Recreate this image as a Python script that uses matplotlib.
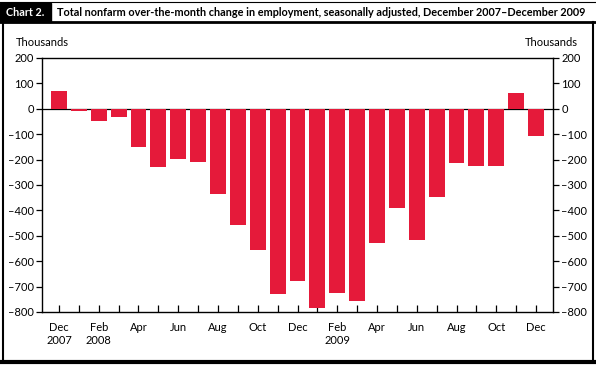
import matplotlib
matplotlib.use("Agg")
import matplotlib.pyplot as plt
from matplotlib.lines import Line2D
from matplotlib.patches import Rectangle
import numpy as np

plt.rcParams["font.family"] = ["Lato", "DejaVu Sans"]

# monthly change, thousands, Dec 2007 - Dec 2009
months = ["Dec", "Jan", "Feb", "Mar", "Apr", "May", "Jun", "Jul", "Aug", "Sep",
          "Oct", "Nov", "Dec", "Jan", "Feb", "Mar", "Apr", "May", "Jun", "Jul",
          "Aug", "Sep", "Oct", "Nov", "Dec"]
change = [71, -10, -50, -34, -152, -231, -196, -211, -337, -459,
          -557, -731, -676, -783, -727, -755, -530, -389, -518, -349,
          -215, -227, -227, 63, -109]
tick_labels = ["Dec\n2007", "", "Feb\n2008", "", "Apr", "", "Jun", "", "Aug", "",
               "Oct", "", "Dec", "", "Feb\n2009", "", "Apr", "", "Jun", "",
               "Aug", "", "Oct", "", "Dec"]
y_ticks = [200, 100, 0, -100, -200, -300, -400, -500, -600, -700, -800]

RED = "#E51A3A"
W, H = 596, 366

fig = plt.figure(figsize=(W / 100, H / 100), dpi=100)
ax = fig.add_axes([42 / W, (H - 312) / H, (553 - 42) / W, (312 - 58) / H])

x = np.arange(len(change))
ax.bar(x, change, width=0.8, color=RED, linewidth=0, zorder=2)
ax.axhline(0, color="black", lw=0.9, zorder=1)

ax.set_xlim(-0.855, len(change) - 1 + 0.855)
ax.set_ylim(-800, 200)

fmt = lambda v: f"\u2013{abs(v)}" if v < 0 else f"{v}"
ax.set_yticks(y_ticks)
ax.set_yticklabels([fmt(v) for v in y_ticks])
ax.tick_params(axis="y", direction="out", length=4, width=0.9, labelsize=8,
               pad=2, left=True, right=True, labelleft=True, labelright=True,
               colors="black")
ax.set_xticks(x)
ax.set_xticklabels(tick_labels, linespacing=1.25)
ax.tick_params(axis="x", direction="in", length=5, width=0.9, labelsize=8,
               pad=7)
for s in ax.spines.values():
    s.set_linewidth(1.0)

fig.text(16 / W, 1 - 43 / H, "Thousands", fontsize=8, va="center", ha="left")
fig.text(578 / W, 1 - 43 / H, "Thousands", fontsize=8, va="center", ha="right")

# header
fig.patches.append(Rectangle((0, 1 - 22 / H), 51 / W, 19 / H,
                             transform=fig.transFigure, color="black"))
fig.text(25 / W, 1 - 13 / H, "Chart 2.", color="white", fontsize=7.8,
         fontweight="bold", ha="center", va="center")
fig.text(57 / W, 1 - 13 / H,
         "Total nonfarm over-the-month change in employment, seasonally adjusted, "
         "December 2007\u2013December 2009",
         fontsize=7.85, fontweight="bold", ha="left", va="center")

# frame
fig.lines.append(Line2D([0, 1], [1 - 22 / H, 1 - 22 / H],
                        transform=fig.transFigure, color="black", lw=2))
fig.lines.append(Line2D([0, 1], [1 - 1.5 / H, 1 - 1.5 / H],
                        transform=fig.transFigure, color="black", lw=0.8))
fig.lines.append(Line2D([2.5 / W, 2.5 / W], [1 - 22 / H, 4 / H],
                        transform=fig.transFigure, color="black", lw=1.5))
fig.lines.append(Line2D([592.5 / W, 592.5 / W], [1 - 22 / H, 4 / H],
                        transform=fig.transFigure, color="black", lw=1.5))
fig.lines.append(Line2D([0, 1], [4 / H, 4 / H],
                        transform=fig.transFigure, color="black", lw=3))

fig.savefig("out.png", dpi=100)
